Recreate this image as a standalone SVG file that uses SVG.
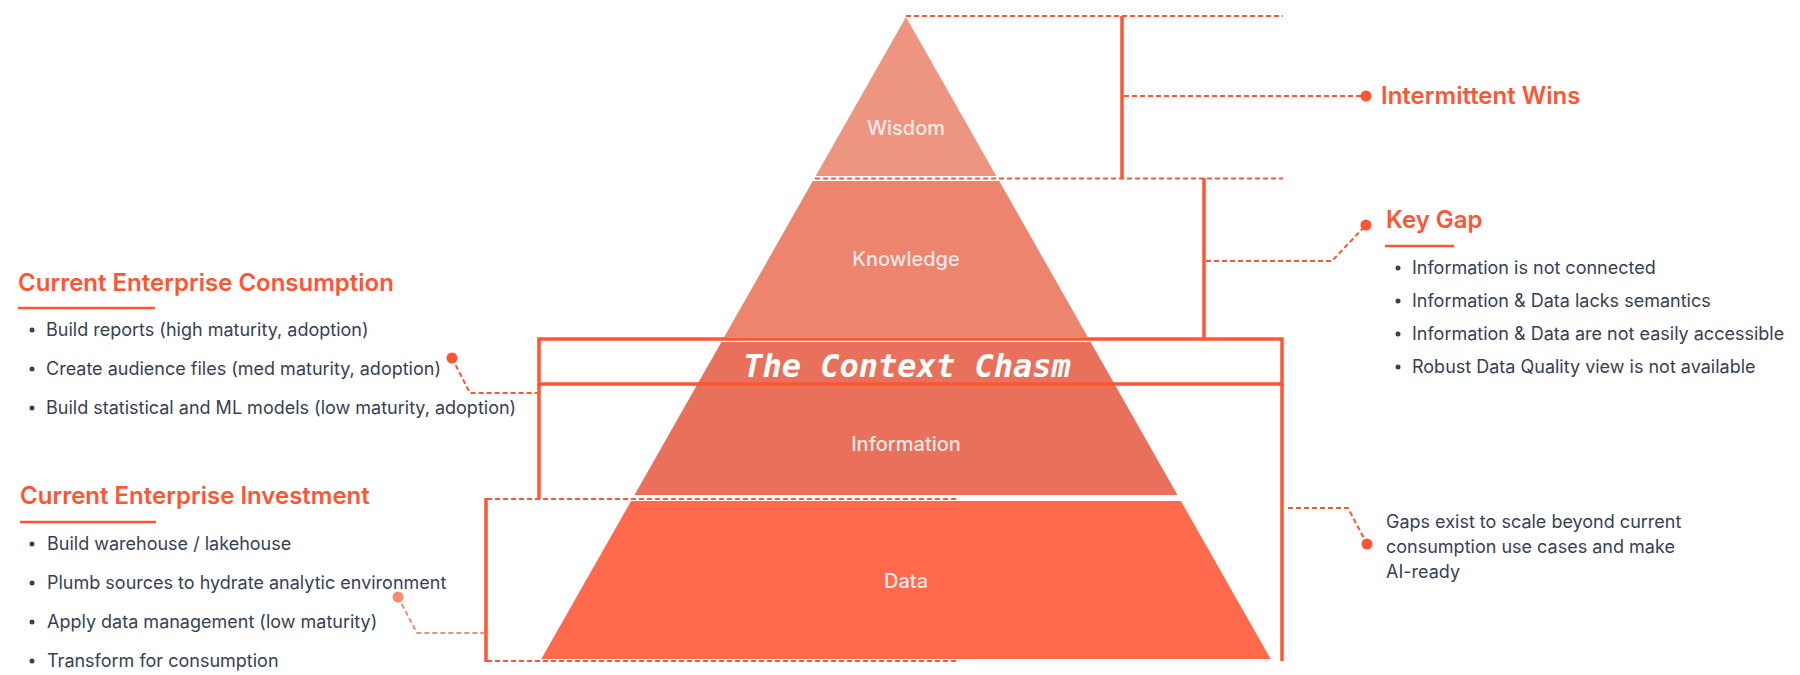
<svg xmlns="http://www.w3.org/2000/svg" width="1800" height="675" viewBox="0 0 1800 675">
<style>
.head{font-family:Inter,"Noto Sans",sans-serif;font-weight:600;font-size:24px;fill:#FF5533}
.body{font-family:Inter,"Noto Sans",sans-serif;font-size:18px;fill:#374151}
.lbl{font-family:Inter,"Noto Sans",sans-serif;font-weight:500;font-size:20px;fill:#F2E9E6;text-anchor:middle}
.chasm{font-family:"DejaVu Sans Mono","Liberation Mono",monospace;font-weight:bold;font-style:italic;font-size:32px;fill:#FFFFFF;text-anchor:middle}
.solid{stroke:#FF5533;stroke-width:3.5;fill:none}
.dash{stroke:#FF5533;stroke-width:2;stroke-dasharray:5 3;fill:none}
.dashlt{stroke:#F88A70;stroke-width:2;stroke-dasharray:5 3;fill:none}
.ul{stroke:#FF5533;stroke-width:2.5}
.dot{fill:#FF5533}
.bul{fill:#374151}
</style>
<rect width="1800" height="675" fill="#FFFFFF"/>
<g id="wisdom">
<polygon points="906,17 996.3,176 815.7,176" fill="#EE9581"/>
<text class="lbl" x="906" y="135">Wisdom</text>
</g>
<g id="knowledge">
<polygon points="812.8,181 999.2,181 1087.8,337 724.2,337" fill="#ED846E"/>
<text class="lbl" x="906" y="266">Knowledge</text>
</g>
<g id="context-chasm">
<polygon points="721.4,342 1090.6,342 1114.5,384 697.5,384" fill="#E9715B"/>
<text class="chasm" x="907" y="377">The Context Chasm</text>
</g>
<g id="information">
<polygon points="697.5,384 1114.5,384 1177.5,495 634.5,495" fill="#E9715B"/>
<text class="lbl" x="906" y="451">Information</text>
</g>
<g id="data">
<polygon points="631.1,501 1180.9,501 1270.7,659 541.3,659" fill="#FF6A4C"/>
<text class="lbl" x="906" y="588">Data</text>
</g>
<g id="connectors">
<line class="dash" x1="906" y1="16" x2="1283" y2="16"/>
<line class="dash" x1="815" y1="178.5" x2="1283" y2="178.5"/>
<line class="solid" x1="1122" y1="16" x2="1122" y2="178"/>
<line class="dash" x1="1124" y1="96" x2="1366" y2="96"/>
<line class="solid" x1="1204" y1="178" x2="1204" y2="339"/>
<polyline class="dash" points="1206,261 1332,261 1366,225"/>
<rect class="solid" x="539" y="339" width="743" height="45"/>
<line class="solid" x1="539" y1="384" x2="539" y2="499"/>
<line class="solid" x1="1282" y1="384" x2="1282" y2="661"/>
<line class="solid" x1="486" y1="498" x2="486" y2="662"/>
<line class="dash" x1="487" y1="499" x2="958" y2="499"/>
<line class="dash" x1="487" y1="661" x2="958" y2="661"/>
<polyline class="dash" points="452,358 470,393 537,393"/>
<polyline class="dashlt" points="398,597 417,633 485,633"/>
<polyline class="dash" points="1288,508 1348,508 1367,544"/>
<circle class="dot" cx="1366" cy="96" r="5.5"/>
<circle class="dot" cx="1366" cy="225" r="5.5"/>
<circle class="dot" cx="452" cy="358" r="5.5"/>
<circle cx="398" cy="597" r="5.5" fill="#F88A70"/>
<circle class="dot" cx="1367" cy="544" r="5.5"/>
</g>
<g id="intermittent-wins">
<text class="head" x="1381" y="104">Intermittent Wins</text>
</g>
<g id="key-gap">
<text class="head" x="1386" y="228">Key Gap</text>
<line class="ul" x1="1385" y1="246" x2="1454" y2="246"/>
<circle class="bul" cx="1398" cy="268" r="2.5"/>
<text class="body" x="1412" y="274">Information is not connected</text>
<circle class="bul" cx="1398" cy="301" r="2.5"/>
<text class="body" x="1412" y="307">Information &amp; Data lacks semantics</text>
<circle class="bul" cx="1398" cy="334" r="2.5"/>
<text class="body" x="1412" y="340">Information &amp; Data are not easily accessible</text>
<circle class="bul" cx="1398" cy="367" r="2.5"/>
<text class="body" x="1412" y="373">Robust Data Quality view is not available</text>
</g>
<g id="consumption">
<text class="head" x="18" y="291">Current Enterprise Consumption</text>
<line class="ul" x1="18" y1="308" x2="155" y2="308"/>
<circle class="bul" cx="32" cy="330" r="2.5"/>
<text class="body" x="46" y="336">Build reports (high maturity, adoption)</text>
<circle class="bul" cx="32" cy="369" r="2.5"/>
<text class="body" x="46" y="375">Create audience files (med maturity, adoption)</text>
<circle class="bul" cx="32" cy="408" r="2.5"/>
<text class="body" x="46" y="414">Build statistical and ML models (low maturity, adoption)</text>
</g>
<g id="investment">
<text class="head" x="20" y="504">Current Enterprise Investment</text>
<line class="ul" x1="20" y1="522" x2="156" y2="522"/>
<circle class="bul" cx="32" cy="544" r="2.5"/>
<text class="body" x="47" y="550">Build warehouse / lakehouse</text>
<circle class="bul" cx="32" cy="583" r="2.5"/>
<text class="body" x="47" y="589">Plumb sources to hydrate analytic environment</text>
<circle class="bul" cx="32" cy="622" r="2.5"/>
<text class="body" x="47" y="628">Apply data management (low maturity)</text>
<circle class="bul" cx="32" cy="661" r="2.5"/>
<text class="body" x="47" y="667">Transform for consumption</text>
</g>
<g id="gaps-note">
<text class="body" x="1386" y="528">Gaps exist to scale beyond current</text>
<text class="body" x="1386" y="553">consumption use cases and make</text>
<text class="body" x="1386" y="578">AI-ready</text>
</g>
</svg>
